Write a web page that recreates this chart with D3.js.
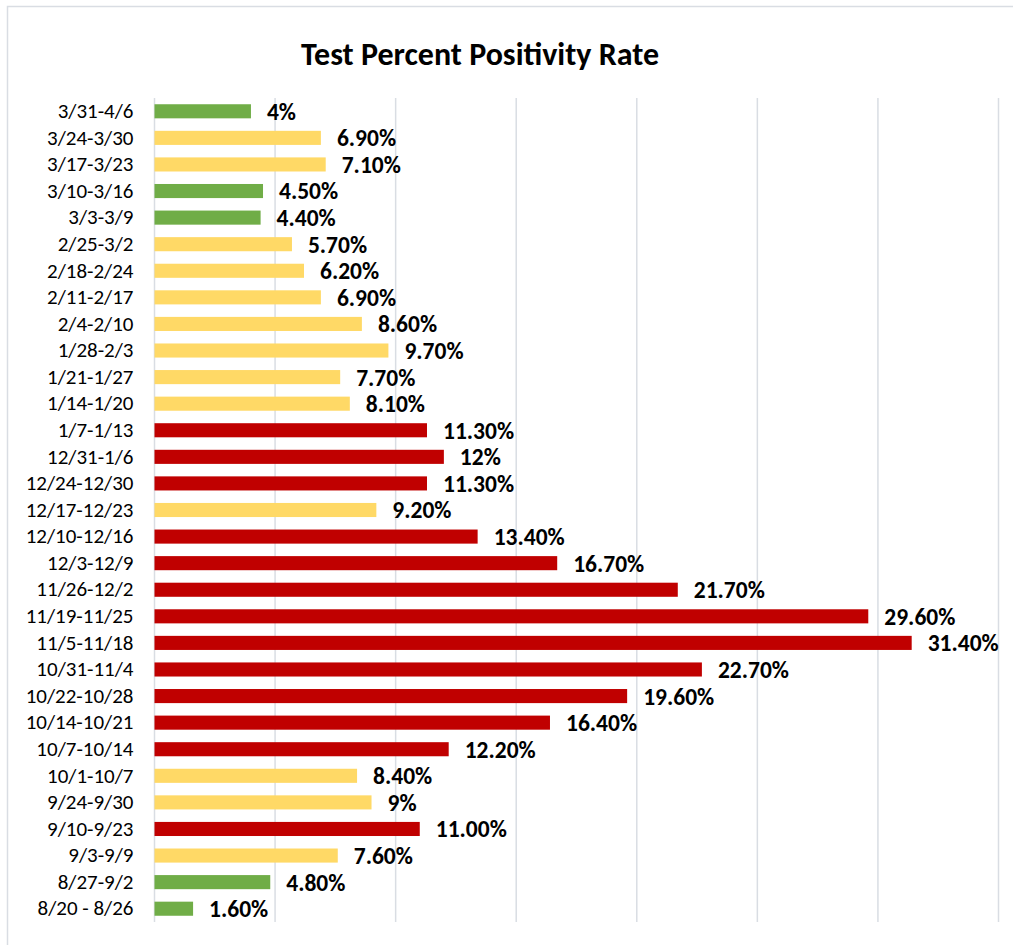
<!DOCTYPE html>
<html>
<head>
<meta charset="utf-8">
<script src="https://cdn.jsdelivr.net/npm/d3@7"></script>
<style>
  body { margin: 0; background: #fff; }
  svg { display: block; font-family: Calibri, Carlito, "Liberation Sans", Arial, sans-serif; }
</style>
</head>
<body>
<div id="container"></div>
<script>
// data, top row first
const weeks = ['3/31-4/6', '3/24-3/30', '3/17-3/23', '3/10-3/16', '3/3-3/9', '2/25-3/2', '2/18-2/24',
  '2/11-2/17', '2/4-2/10', '1/28-2/3', '1/21-1/27', '1/14-1/20', '1/7-1/13', '12/31-1/6',
  '12/24-12/30', '12/17-12/23', '12/10-12/16', '12/3-12/9', '11/26-12/2', '11/19-11/25',
  '11/5-11/18', '10/31-11/4', '10/22-10/28', '10/14-10/21', '10/7-10/14', '10/1-10/7',
  '9/24-9/30', '9/10-9/23', '9/3-9/9', '8/27-9/2', '8/20 - 8/26'];
const rates = [4, 6.9, 7.1, 4.5, 4.4, 5.7, 6.2, 6.9, 8.6, 9.7, 7.7, 8.1, 11.3, 12, 11.3, 9.2,
  13.4, 16.7, 21.7, 29.6, 31.4, 22.7, 19.6, 16.4, 12.2, 8.4, 9, 11.0, 7.6, 4.8, 1.6];
const rateLabels = ['4%', '6.90%', '7.10%', '4.50%', '4.40%', '5.70%', '6.20%', '6.90%', '8.60%',
  '9.70%', '7.70%', '8.10%', '11.30%', '12%', '11.30%', '9.20%', '13.40%', '16.70%', '21.70%',
  '29.60%', '31.40%', '22.70%', '19.60%', '16.40%', '12.20%', '8.40%', '9%', '11.00%', '7.60%',
  '4.80%', '1.60%'];
const levels = ['low', 'mid', 'mid', 'low', 'low', 'mid', 'mid', 'mid', 'mid', 'mid', 'mid', 'mid',
  'high', 'high', 'high', 'mid', 'high', 'high', 'high', 'high', 'high', 'high', 'high', 'high',
  'high', 'mid', 'mid', 'high', 'mid', 'low', 'low'];
const gridTicks = [0, 5, 10, 15, 20, 25, 30, 35];

const rows = weeks.map((w, i) => ({ week: w, rate: rates[i], label: rateLabels[i], level: levels[i] }));

// dimensions
const W = 1013, H = 945;
const margin = { top: 98, right: 14.5, bottom: 23, left: 154.5 };
const width = W - margin.left - margin.right;
const height = H - margin.top - margin.bottom;

const svg = d3.select('#container')
  .append('svg')
  .attr('width', W)
  .attr('height', H);

// chart frame
svg.append('rect')
  .attr('x', 7.5).attr('y', 6.5)
  .attr('width', W + 20).attr('height', H + 20)
  .attr('fill', 'none')
  .attr('stroke', '#d9dde3')
  .attr('stroke-width', 1.5);

// title
svg.append('text')
  .attr('x', 480)
  .attr('y', 65)
  .attr('text-anchor', 'middle')
  .attr('font-size', 32)
  .attr('font-weight', 'bold')
  .attr('fill', '#000')
  .text('Test Percent Positivity Rate');

const g = svg.append('g')
  .attr('transform', `translate(${margin.left}, ${margin.top})`);

// scales
const xScale = d3.scaleLinear().domain([0, 35]).range([0, width]);
const yScale = d3.scaleBand().domain(weeks).range([0, height]).paddingInner(0.47).paddingOuter(0.235);
const colour = d3.scaleOrdinal().domain(['low', 'mid', 'high']).range(['#70ad47', '#ffd966', '#c00000']);

// vertical gridlines
g.selectAll('.grid')
  .data(gridTicks)
  .join('line')
  .attr('class', 'grid')
  .attr('x1', d => xScale(d)).attr('x2', d => xScale(d))
  .attr('y1', 0).attr('y2', height)
  .attr('stroke', '#d9dde3')
  .attr('stroke-width', 1.5);

// category axis, labels only
const yAxis = g.append('g')
  .call(d3.axisLeft(yScale).tickSize(0).tickPadding(21));
yAxis.select('.domain').remove();
yAxis.selectAll('text')
  .attr('font-size', 21)
  .attr('font-family', 'Calibri, Carlito, "Liberation Sans", Arial, sans-serif')
  .attr('fill', '#000');

// bars
g.selectAll('.bar')
  .data(rows)
  .join('rect')
  .attr('class', 'bar')
  .attr('x', xScale(0))
  .attr('y', d => yScale(d.week))
  .attr('width', d => xScale(d.rate) - xScale(0))
  .attr('height', yScale.bandwidth())
  .attr('fill', d => colour(d.level));

// value labels
g.selectAll('.val')
  .data(rows)
  .join('text')
  .attr('class', 'val')
  .attr('x', d => xScale(d.rate) + 16)
  .attr('y', d => yScale(d.week) + yScale.bandwidth() / 2)
  .attr('dy', '0.36em')
  .attr('font-size', 23.5)
  .attr('font-weight', 'bold')
  .attr('fill', '#000')
  .text(d => d.label);
</script>
</body>
</html>
